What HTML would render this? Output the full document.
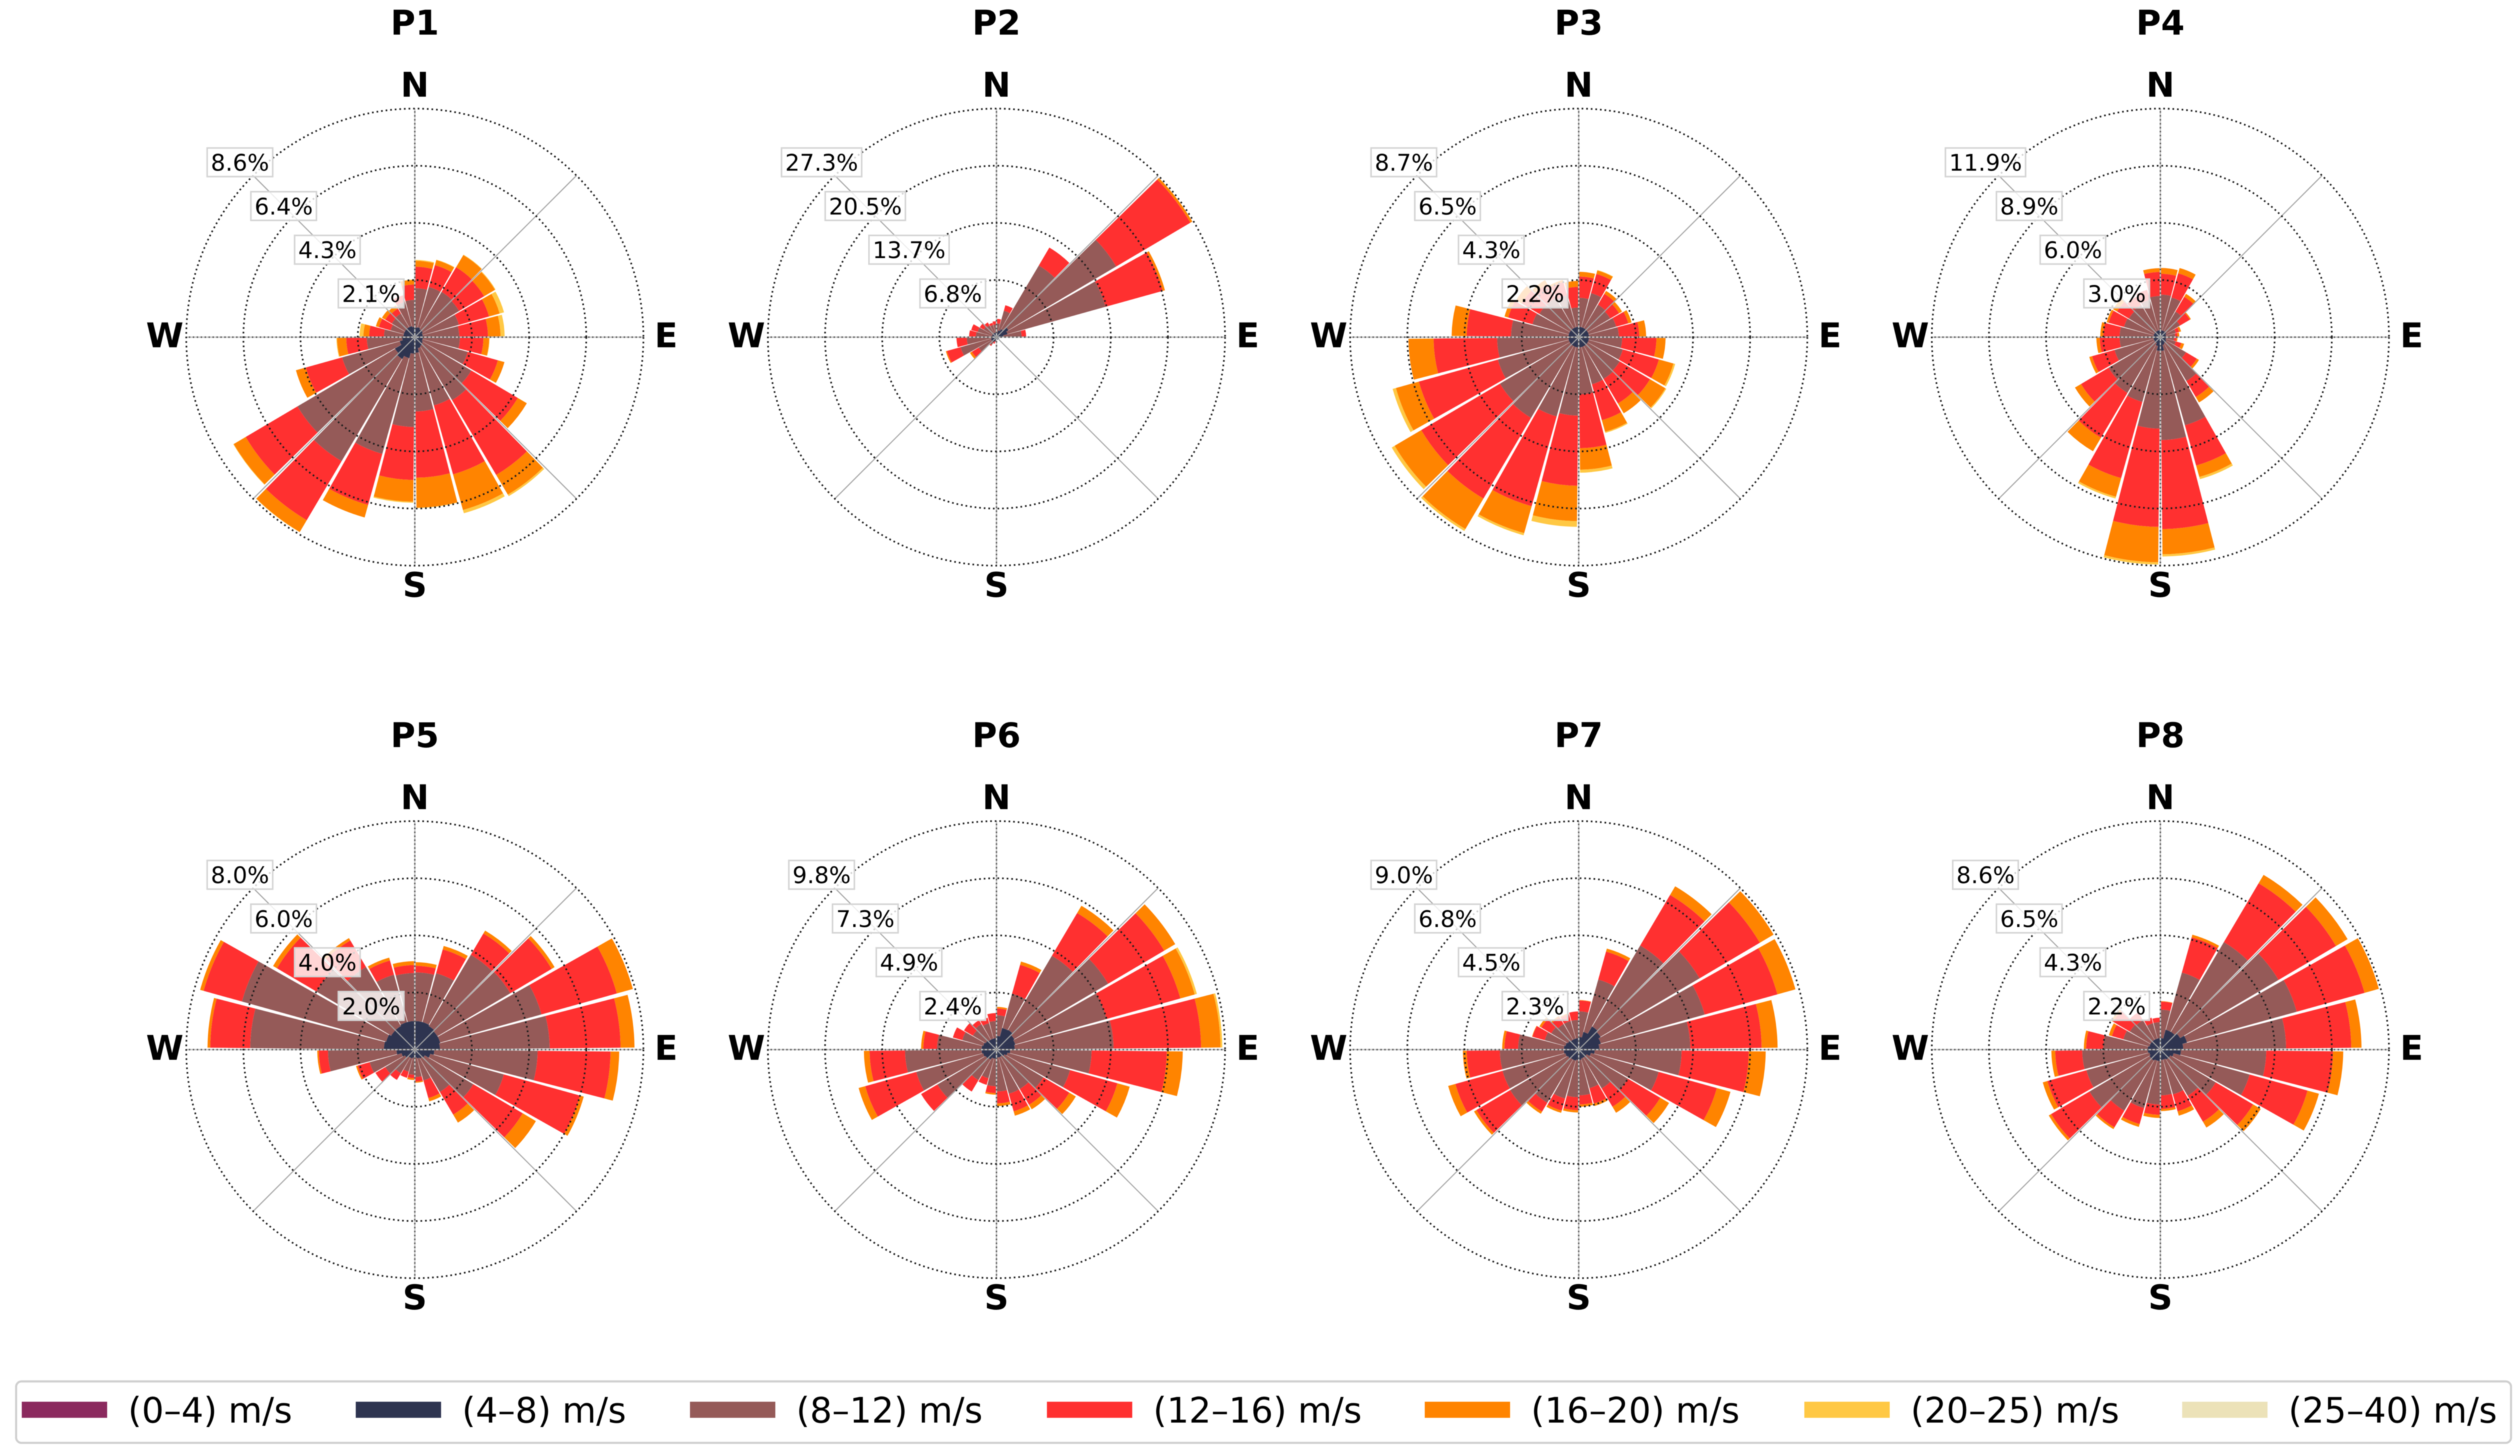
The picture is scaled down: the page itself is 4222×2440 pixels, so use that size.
<!DOCTYPE html>
<html lang="en">
<head>
<meta charset="utf-8">
<title>Wind roses P1–P8</title>
<style>
html,body{margin:0;padding:0;background:#fff;width:4222px;height:2440px;overflow:hidden}
svg{display:block;filter:blur(0.8px)}
text{font-family:"DejaVu Sans","Liberation Sans",sans-serif}
</style>
</head>
<body>
<svg id="chart" xmlns="http://www.w3.org/2000/svg" width="4222" height="2440" viewBox="0 0 4222 2440">
<rect width="4222" height="2440" fill="#fff"/>
</svg>
<script>
// Chart data. Every value is the upper edge of a stacked speed class, read from the
// picture and expressed as a percentage of the outermost ring of that panel.
const panelTitles = ['P1','P2','P3','P4','P5','P6','P7','P8'];
const compassLabels = ['N','E','S','W'];
const p1Rings = ['2.1%','4.3%','6.4%','8.6%'];
const p2Rings = ['6.8%','13.7%','20.5%','27.3%'];
const p3Rings = ['2.2%','4.3%','6.5%','8.7%'];
const p4Rings = ['3.0%','6.0%','8.9%','11.9%'];
const p5Rings = ['2.0%','4.0%','6.0%','8.0%'];
const p6Rings = ['2.4%','4.9%','7.3%','9.8%'];
const p7Rings = ['2.3%','4.5%','6.8%','9.0%'];
const p8Rings = ['2.2%','4.3%','6.5%','8.6%'];
const legendLabels = ['(0–4) m/s','(4–8) m/s','(8–12) m/s','(12–16) m/s','(16–20) m/s','(20–25) m/s','(25–40) m/s'];

const p1Navy = [4.2,4.5,4,4,3.5,3.5,3.5,3.5,4,4.5,5,6.8,7.2,9.5,11,10,6.8,5.5,5,5,5,5,5,4.5];
const p1Brown = [21.4,22.8,23,22.5,20,19.4,19.7,24,28.7,32,31,32.5,39.3,53,63,59.6,33,21,13.5,11,11.7,12,16,16.3];
const p1Red = [30.8,32.7,35.5,35.2,33.7,32,30,37.7,52.3,70,62.3,61.5,62.5,76.2,93,85.9,49.5,30,20,16.3,15,14.5,19,23];
const p1Orange = [33.4,35,41.7,40.7,38.5,37.5,32.5,40.7,56.9,80,78.5,74.6,72,81.9,99,92,54,34,22.5,17.7,16.7,16.2,19,25];
const p1Yellow = [33.8,35.2,41.9,41,40.5,39.3,32.7,40.7,56.9,80.8,80,74.8,72.5,81.9,99.1,92.2,54,34.3,24.2,17.7,16.7,16.2,19,25.2];

const p2Navy = [2,3,4,6,5,3,1.5,1.2,1.2,1.2,1.2,1.2,1.5,2,2.5,2.5,2.5,2,2,2,2,2,2,2];
const p2Brown = [6,12,36.4,60.8,49.5,11,1.5,1.2,1.2,1.2,1.2,1.2,1.5,2,4,9,16.3,13,9,8.5,6.5,6,5.5,5.5];
const p2Red = [8,14.5,45.5,98.5,75.5,13,1.5,1.2,1.2,1.2,1.2,1.2,2,3,4.5,12.5,22.5,17.5,12,11.5,8.5,7.5,6.5,7];
const p2Orange = [8,14.5,45.5,99.5,76.5,13,1.5,1.2,1.2,1.2,1.2,1.2,2,3,4.5,13.5,23,17.5,12,11.5,8.5,7.5,6.5,7];
const p2Yellow = [8,14.5,45.5,99.5,76.5,13,1.5,1.2,1.2,1.2,1.2,1.2,2,3,4.5,13.5,23,17.5,12,11.5,8.5,7.5,6.5,7];

const p3Navy = [4.5,4.5,4.5,4.5,4.5,4.5,4.5,4.5,4.5,4.5,4.5,4.5,4.5,4.5,4.5,4.5,4.5,4.5,4.5,4.5,4.5,4.5,4.5,4.5];
const p3Brown = [17.2,20,16.5,16,17,17.5,19,20,20.8,21.2,21.4,25,34.3,36,41,40,36.7,35.7,29.6,21,20,20,19,13];
const p3Red = [26.5,28.7,22,20.5,22.5,26.5,34,36.4,36.2,33.7,37.7,48.6,65,76.8,82,80,72.6,63.5,49,32,29,27,25,22];
const p3Orange = [28.6,30.3,23.5,22,24,29.5,38,43,44,38.7,43,58,80.5,89,97.5,93.5,83,74.5,55.6,33.7,31.8,29,26,24.6];
const p3Yellow = [28.6,30.5,23.5,22,24,29.5,38,43.8,44.5,38.7,43.5,59.3,83,90,98.5,95,84.5,74.5,55.6,33.7,31.8,29,26,24.6];

const p4Navy = [3,3,3,3,2.5,2.5,2.5,2.5,3,3,3.5,6,6,4,3,3,3,3,3,3,3,3,3,3];
const p4Brown = [18.6,18,13,10,7,6.5,6,7,13,22.3,40,45,40,29.4,28.3,26.3,20.8,17.8,17.8,16.5,16,16.5,17,18];
const p4Red = [27.7,29,20.5,15,8.5,7.5,7,9.5,18.5,30.4,58.3,84,83,64,51.1,40.3,31,26.5,25,23.5,22,20.6,21.5,28.5];
const p4Orange = [30.3,31.4,22,15.5,9.4,8.3,7.5,10.8,19.6,33.2,63.5,95,98.5,72.5,58,43.4,32.3,28,26.3,24.4,24,20.6,21.5,30.2];
const p4Yellow = [30.3,31.4,22,15.5,9.4,8.3,7.5,10.8,19.6,33.2,64.5,96,99.5,73.3,58,43.4,32.3,28,26.3,24.4,24,20.6,21.5,30.2];

const p5Navy = [12.5,12.5,12,11.5,11.5,11,8.5,7,5,4.5,4,3.5,3.5,4,4,5,6,8,13.5,13,12,12,12.5,12.5];
const p5Brown = [33.8,34.7,48.2,48.5,57.5,59,53.7,40.4,29.7,21.5,14,12,11,10,12,15,20.5,38,72,78.5,50,42,34,33.5];
const p5Red = [36.7,45.5,59,69.5,91.7,90,85.6,75,54.8,33,22,14,12.5,12.8,15.4,20,26,42,89.5,95.9,70,55.5,40.5,37];
const p5Orange = [38.3,47.1,60.5,71,99,96.1,89.4,76.7,61.5,37.1,23.5,14.5,13.3,12.8,15.4,20,26.7,42.7,90.7,97.5,72,56.7,41.8,38.7];
const p5Yellow = [38.3,47.1,60.5,71,99,96.1,89.4,76.7,61.5,37.1,23.5,14.5,13.3,12.8,15.4,20,26.7,42.7,90.7,97.5,72,56.7,41.8,38.7];

const p6Navy = [6,9.8,10,9,8.5,8,6,5,4,3.5,3.5,3.5,4,4,5,5.5,6,6.5,6.5,6,5.5,5,5,5];
const p6Brown = [15,25.4,47.7,56.7,50,51.2,41.6,33.4,23.8,20,20,18.3,16,13,15.5,30,36.4,40,26,15.5,12,13,12,12.5];
const p6Red = [18,38.5,69.4,85.2,83.5,89.5,74.5,54.9,37,28,28,23.5,19,16,21.3,38.3,59.6,55.5,32,19.8,16.5,15,14.5,16];
const p6Orange = [18.7,40,73.1,90.8,90,98,81.5,60.5,40.3,30.3,30,24.7,19.7,16,21.3,38.3,62.6,58,33,19.8,16.5,15,14.5,16];
const p6Yellow = [18.7,40,73.1,90.8,91,98.8,81.5,60.5,40.3,30.3,30,24.7,19.7,16,21.3,38.3,62.6,58,33,19.8,16.5,15,14.5,16];

const p7Navy = [5.5,8,11.7,11,10,9,7,5.5,4,4,4,4.5,4.5,5,5,5.5,6,6.5,6.5,6,5.5,5,5,5];
const p7Brown = [16.7,31.8,52.9,61.4,57.2,48.8,45,36.3,25,19.7,17.5,20,20.8,22.2,27,34.8,34.6,34.5,26.5,15.4,14,13,13,13];
const p7Red = [21.5,44.5,78.6,92,90.2,80,74.4,62.7,41.4,29,24.5,24,26.5,27.7,31.5,52,56,49,32.5,21,19,16.5,16,16.7];
const p7Orange = [21.7,45.9,83,99,98.4,87,81.8,68.9,45.9,32.1,25.6,25,27.5,28.7,32.6,53.2,59.3,50.7,33.5,21.2,20,17.1,16.5,16.7];
const p7Yellow = [21.7,45.9,83,99,98.4,87,81.8,68.9,45.9,32.1,25.6,25,27.5,28.7,32.6,53.2,59.3,50.7,33.5,21.2,20,17.1,16.5,16.7];

const p8Navy = [5,9,9,10,12,10,9,6,5,5,4.5,4.5,5,5,5.5,5.5,5,5.5,5.5,5,5,5,5,5];
const p8Brown = [17.5,35,54.6,60,61.9,55,46.3,40.5,28.1,23.4,20.3,20,24,26.5,31,36,33.6,34.2,25,16.8,15.5,15,12,12];
const p8Red = [21,51,84.5,89.2,92.7,83.5,75.5,66.8,47.1,36.6,28,26,28.5,33.8,39.5,55.5,51.3,46,32.5,22,24,19,14.5,14];
const p8Orange = [21.2,52.2,88.8,95.1,99.2,88,80,72,51,39.6,30,26.9,29.9,35.1,40.4,56.7,53.4,47.7,33.5,23.4,25,19,14.5,14];
const p8Yellow = [21.2,52.2,88.8,95.1,99.2,88,80,72,51,39.6,30,26.9,29.9,35.1,40.4,56.7,53.4,47.7,33.5,23.4,25,19,14.5,14];

const panelRings = [p1Rings,p2Rings,p3Rings,p4Rings,p5Rings,p6Rings,p7Rings,p8Rings];
const panelStacks = [
  [p1Navy,p1Brown,p1Red,p1Orange,p1Yellow],
  [p2Navy,p2Brown,p2Red,p2Orange,p2Yellow],
  [p3Navy,p3Brown,p3Red,p3Orange,p3Yellow],
  [p4Navy,p4Brown,p4Red,p4Orange,p4Yellow],
  [p5Navy,p5Brown,p5Red,p5Orange,p5Yellow],
  [p6Navy,p6Brown,p6Red,p6Orange,p6Yellow],
  [p7Navy,p7Brown,p7Red,p7Orange,p7Yellow],
  [p8Navy,p8Brown,p8Red,p8Orange,p8Yellow]
];
const stackColors = ['#2e3450','#955a58','#ff3030','#ff8400','#ffc844'];
const stackNames = ['navy','brown','red','orange','yellow'];
const legendColors = ['#8b2a5e','#2e3450','#955a58','#ff3030','#ff8400','#ffc844','#ece2b8'];

const svg = document.getElementById('chart');
const NS = 'http://www.w3.org/2000/svg';
const R = 383;
const SECTOR = 15;
const GAP = 0.55;
const LABEL_REACH = 293;

function make(tag, attrs, parent) {
  const el = document.createElementNS(NS, tag);
  for (const k in attrs) el.setAttribute(k, attrs[k]);
  parent.appendChild(el);
  return el;
}
function rScale(v) { return v / 100 * R; }
function aScale(k) { return k * SECTOR; }
function polar(cx, cy, r, deg) {
  const t = deg * Math.PI / 180;
  return [cx + r * Math.sin(t), cy - r * Math.cos(t)];
}
function wedgePath(cx, cy, r0, r1, a0, a1) {
  const p0 = polar(cx, cy, r1, a0), p1 = polar(cx, cy, r1, a1);
  if (r0 <= 0.01) {
    return 'M' + cx + ' ' + cy + 'L' + p0[0] + ' ' + p0[1] + 'A' + r1 + ' ' + r1 + ' 0 0 1 ' + p1[0] + ' ' + p1[1] + 'Z';
  }
  const p2 = polar(cx, cy, r0, a1), p3 = polar(cx, cy, r0, a0);
  return 'M' + p0[0] + ' ' + p0[1] + 'A' + r1 + ' ' + r1 + ' 0 0 1 ' + p1[0] + ' ' + p1[1] +
    'L' + p2[0] + ' ' + p2[1] + 'A' + r0 + ' ' + r0 + ' 0 0 0 ' + p3[0] + ' ' + p3[1] + 'Z';
}
function centerText(str, x, cy, size, weight, parent) {
  const t = make('text', {x: x, y: cy + size * 0.365, 'text-anchor': 'middle', 'font-size': size, 'font-weight': weight, fill: '#000'}, parent);
  t.textContent = str;
  return t;
}

const colX = [695, 1669.5, 2645, 3619.5];
const rowY = [565, 1759];
const titleGap = 528;
const compassN = 424, compassS = 414, compassE = 421, compassW = 419;

panelTitles.forEach(function (title, p) {
  const cx = colX[p % 4];
  const cy = rowY[Math.floor(p / 4)];
  const g = make('g', {}, svg);
  
  

  const bars = make('g', {}, g);
  
  
  const stacks = panelStacks[p];
  stacks[0].forEach(function (_, k) {
    for (let s = stacks.length - 1; s >= 0; s--) {
      const top = stacks[s][k];
      const bottom = s > 0 ? stacks[s - 1][k] : 0;
      if (top <= bottom) continue;
      const gap = s === 0 ? -0.3 : GAP;
      const seg = make('path', {
        d: wedgePath(cx, cy, rScale(bottom), rScale(top), aScale(k) + gap, aScale(k + 1) - gap),
        fill: stackColors[s]
      }, bars);
      
      
    }
  });

  [0, 90, 180, 270].forEach(function (deg) {
    const e = polar(cx, cy, R, deg);
    const base = make('line', {x1: cx, y1: cy, x2: e[0], y2: e[1], stroke: '#c6c6c6', 'stroke-width': 2.2}, g);
    
    
    const dots = make('line', {x1: cx, y1: cy, x2: e[0], y2: e[1], stroke: '#555', 'stroke-width': 2.4, 'stroke-dasharray': '2.4 4.2'}, g);
    
    
  });
  [45, 135, 225, 315].forEach(function (deg) {
    const e = polar(cx, cy, R, deg);
    const sp = make('line', {x1: cx, y1: cy, x2: e[0], y2: e[1], stroke: '#a6a6a6', 'stroke-width': 1.8}, g);
    
    
  });

  panelRings[p].forEach(function (_, i) {
    const ring = make('circle', {cx: cx, cy: cy, r: R * (i + 1) / 4, fill: 'none', stroke: '#1c1c1c', 'stroke-width': 2.8, 'stroke-dasharray': '2.8 4.9'}, g);
    
    
  });

  panelRings[p].forEach(function (label, i) {
    const off = LABEL_REACH * (i + 1) / 4;
    const lg = make('g', {}, g);
    
    
    const box = make('rect', {fill: '#fff', 'fill-opacity': 0.8, stroke: '#d4d4d4', 'stroke-width': 2.6}, lg);
    const t = centerText(label, cx - off, cy - off, 38.5, 'normal', lg);
    const w = t.getComputedTextLength() + 12;
    box.setAttribute('x', cx - off - w / 2);
    box.setAttribute('y', cy - off - 24);
    box.setAttribute('width', w);
    box.setAttribute('height', 48);
  });

  const ttl = centerText(title, cx, cy - titleGap, 57, 'bold', g);
  
  
  const positions = [[cx, cy - compassN], [cx + compassE, cy - 4], [cx, cy + compassS], [cx - compassW, cy - 4]];
  compassLabels.forEach(function (c, i) {
    const ct = centerText(c, positions[i][0], positions[i][1], 57, 'bold', g);
    
    
  });
});

const legend = make('g', {}, svg);


const legendFrame = make('rect', {x: 27, y: 2315, width: 4180, height: 103, rx: 9, fill: '#fff', stroke: '#cfcfcf', 'stroke-width': 3.5}, legend);


const swatchX = [36.5, 596, 1156, 1754, 2387, 3023, 3656];
legendLabels.forEach(function (label, i) {
  const entry = make('g', {}, legend);
  
  
  const sw = make('rect', {x: swatchX[i], y: 2349, width: 143, height: 27, fill: legendColors[i]}, entry);
  
  
  const t = make('text', {x: swatchX[i] + 178, y: 2384, 'font-size': 58.5, fill: '#000'}, entry);
  
  
  t.textContent = label;
});
</script>
</body>
</html>
